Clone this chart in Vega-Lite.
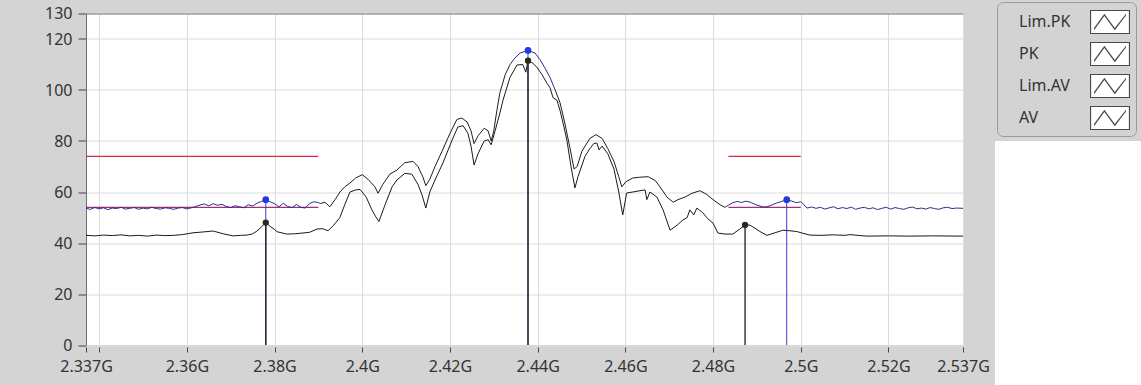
{
  "$schema": "https://vega.github.io/schema/vega-lite/v6.json",
  "autosize": {"type": "none"},
  "width": 877,
  "height": 331.5,
  "padding": {"left": 86, "top": 13.5, "right": 178, "bottom": 40},
  "background": "#d4d4d4",
  "view": {"fill": "#ffffff", "stroke": null},
  "config": {
    "view": {"fill": "#ffffff", "stroke": null},
    "font": "Noto Sans",
    "axis": {"labelFont": "Noto Sans", "labelFontSize": 16, "labelColor": "#333333", "gridColor": "#dcdcdc", "gridWidth": 1, "tickColor": "#444444", "domainColor": "#6e6e6e"}
  },
  "resolve": {"scale": {"shape": "independent"}, "legend": {"shape": "independent"}},
  "datasets": {
    "traces": [
      {"f":2.337,"v":53.6,"s":"PK","g":"a"},{"f":2.338,"v":53.2,"s":"PK","g":"a"},{"f":2.339,"v":53.9,"s":"PK","g":"a"},{"f":2.340,"v":53.4,"s":"PK","g":"a"},{"f":2.341,"v":53.8,"s":"PK","g":"a"},{"f":2.342,"v":53.1,"s":"PK","g":"a"},{"f":2.343,"v":53.7,"s":"PK","g":"a"},{"f":2.344,"v":53.5,"s":"PK","g":"a"},{"f":2.345,"v":54.0,"s":"PK","g":"a"},{"f":2.346,"v":53.3,"s":"PK","g":"a"},{"f":2.347,"v":53.6,"s":"PK","g":"a"},{"f":2.348,"v":53.9,"s":"PK","g":"a"},{"f":2.349,"v":53.2,"s":"PK","g":"a"},{"f":2.350,"v":53.7,"s":"PK","g":"a"},{"f":2.351,"v":53.4,"s":"PK","g":"a"},{"f":2.352,"v":54.0,"s":"PK","g":"a"},{"f":2.353,"v":53.5,"s":"PK","g":"a"},{"f":2.354,"v":53.3,"s":"PK","g":"a"},{"f":2.355,"v":53.8,"s":"PK","g":"a"},{"f":2.356,"v":53.6,"s":"PK","g":"a"},{"f":2.357,"v":53.2,"s":"PK","g":"a"},{"f":2.358,"v":53.7,"s":"PK","g":"a"},{"f":2.359,"v":53.9,"s":"PK","g":"a"},{"f":2.360,"v":53.4,"s":"PK","g":"a"},{"f":2.361,"v":53.8,"s":"PK","g":"a"},{"f":2.362,"v":54.3,"s":"PK","g":"a"},{"f":2.363,"v":54.9,"s":"PK","g":"a"},{"f":2.364,"v":55.3,"s":"PK","g":"a"},{"f":2.365,"v":54.6,"s":"PK","g":"a"},{"f":2.366,"v":55.4,"s":"PK","g":"a"},{"f":2.367,"v":54.8,"s":"PK","g":"a"},{"f":2.368,"v":55.2,"s":"PK","g":"a"},{"f":2.369,"v":54.3,"s":"PK","g":"a"},{"f":2.370,"v":53.9,"s":"PK","g":"a"},{"f":2.371,"v":54.6,"s":"PK","g":"a"},{"f":2.372,"v":54.2,"s":"PK","g":"a"},{"f":2.373,"v":53.8,"s":"PK","g":"a"},{"f":2.374,"v":55.0,"s":"PK","g":"a"},{"f":2.375,"v":54.5,"s":"PK","g":"a"},{"f":2.376,"v":55.6,"s":"PK","g":"a"},{"f":2.377,"v":56.3,"s":"PK","g":"a"},{"f":2.378,"v":57.0,"s":"PK","g":"a"},{"f":2.379,"v":56.2,"s":"PK","g":"a"},{"f":2.380,"v":55.4,"s":"PK","g":"a"},{"f":2.381,"v":54.2,"s":"PK","g":"a"},{"f":2.382,"v":55.6,"s":"PK","g":"a"},{"f":2.383,"v":54.3,"s":"PK","g":"a"},{"f":2.384,"v":53.9,"s":"PK","g":"a"},{"f":2.385,"v":55.1,"s":"PK","g":"a"},{"f":2.386,"v":54.0,"s":"PK","g":"a"},{"f":2.387,"v":53.7,"s":"PK","g":"a"},{"f":2.388,"v":55.5,"s":"PK","g":"a"},{"f":2.389,"v":56.2,"s":"PK","g":"a"},{"f":2.390,"v":55.8,"s":"PK","g":"a"},{"f":2.3905,"v":55.5,"s":"PK","g":"a"},
      {"f":2.3905,"v":55.5,"s":"PK2","g":"b"},{"f":2.3915,"v":56,"s":"PK2","g":"b"},{"f":2.3926,"v":54.2,"s":"PK2","g":"b"},{"f":2.3938,"v":57,"s":"PK2","g":"b"},{"f":2.3949,"v":60,"s":"PK2","g":"b"},{"f":2.396,"v":62,"s":"PK2","g":"b"},{"f":2.3972,"v":63.5,"s":"PK2","g":"b"},{"f":2.3985,"v":65.5,"s":"PK2","g":"b"},{"f":2.4,"v":66.8,"s":"PK2","g":"b"},{"f":2.4013,"v":65,"s":"PK2","g":"b"},{"f":2.4029,"v":62,"s":"PK2","g":"b"},{"f":2.4036,"v":59.5,"s":"PK2","g":"b"},{"f":2.4047,"v":63,"s":"PK2","g":"b"},{"f":2.4063,"v":67,"s":"PK2","g":"b"},{"f":2.4079,"v":68.6,"s":"PK2","g":"b"},{"f":2.4097,"v":71.5,"s":"PK2","g":"b"},{"f":2.4116,"v":72,"s":"PK2","g":"b"},{"f":2.4127,"v":70,"s":"PK2","g":"b"},{"f":2.4138,"v":66,"s":"PK2","g":"b"},{"f":2.4145,"v":62.5,"s":"PK2","g":"b"},{"f":2.4154,"v":65,"s":"PK2","g":"b"},{"f":2.4166,"v":70,"s":"PK2","g":"b"},{"f":2.4182,"v":76,"s":"PK2","g":"b"},{"f":2.42,"v":83,"s":"PK2","g":"b"},{"f":2.4216,"v":88.5,"s":"PK2","g":"b"},{"f":2.4227,"v":89,"s":"PK2","g":"b"},{"f":2.4239,"v":87.5,"s":"PK2","g":"b"},{"f":2.4248,"v":84,"s":"PK2","g":"b"},{"f":2.4255,"v":79,"s":"PK2","g":"b"},{"f":2.4264,"v":82,"s":"PK2","g":"b"},{"f":2.4278,"v":85,"s":"PK2","g":"b"},{"f":2.4287,"v":84,"s":"PK2","g":"b"},{"f":2.4294,"v":80,"s":"PK2","g":"b"},{"f":2.43,"v":84,"s":"PK2","g":"b"},{"f":2.4307,"v":92,"s":"PK2","g":"b"},{"f":2.4314,"v":99,"s":"PK2","g":"b"},{"f":2.4326,"v":106,"s":"PK2","g":"b"},{"f":2.4337,"v":110,"s":"PK2","g":"b"},
      {"f":2.4337,"v":110,"s":"PK","g":"c"},{"f":2.4348,"v":112.5,"s":"PK","g":"c"},{"f":2.436,"v":114.5,"s":"PK","g":"c"},{"f":2.4378,"v":115.5,"s":"PK","g":"c"},{"f":2.4394,"v":114.5,"s":"PK","g":"c"},{"f":2.4405,"v":112,"s":"PK","g":"c"},{"f":2.4417,"v":108.5,"s":"PK","g":"c"},{"f":2.4428,"v":105,"s":"PK","g":"c"},{"f":2.444,"v":100,"s":"PK","g":"c"},
      {"f":2.444,"v":100,"s":"PK2","g":"d"},{"f":2.4451,"v":95,"s":"PK2","g":"d"},{"f":2.4462,"v":87,"s":"PK2","g":"d"},{"f":2.4474,"v":77,"s":"PK2","g":"d"},{"f":2.4483,"v":69,"s":"PK2","g":"d"},{"f":2.449,"v":70,"s":"PK2","g":"d"},{"f":2.4501,"v":76,"s":"PK2","g":"d"},{"f":2.4519,"v":81,"s":"PK2","g":"d"},{"f":2.4533,"v":82.5,"s":"PK2","g":"d"},{"f":2.4547,"v":81,"s":"PK2","g":"d"},{"f":2.456,"v":77,"s":"PK2","g":"d"},{"f":2.4574,"v":72,"s":"PK2","g":"d"},{"f":2.4585,"v":66,"s":"PK2","g":"d"},{"f":2.4592,"v":62,"s":"PK2","g":"d"},{"f":2.4601,"v":64,"s":"PK2","g":"d"},{"f":2.4617,"v":65.5,"s":"PK2","g":"d"},{"f":2.4633,"v":65.8,"s":"PK2","g":"d"},{"f":2.4652,"v":66,"s":"PK2","g":"d"},{"f":2.4668,"v":64.5,"s":"PK2","g":"d"},{"f":2.4679,"v":62,"s":"PK2","g":"d"},{"f":2.4695,"v":58,"s":"PK2","g":"d"},{"f":2.4709,"v":56,"s":"PK2","g":"d"},{"f":2.472,"v":57,"s":"PK2","g":"d"},{"f":2.4736,"v":58,"s":"PK2","g":"d"},{"f":2.4752,"v":59.5,"s":"PK2","g":"d"},{"f":2.477,"v":60.5,"s":"PK2","g":"d"},{"f":2.4786,"v":59,"s":"PK2","g":"d"},{"f":2.48,"v":57,"s":"PK2","g":"d"},{"f":2.4816,"v":55,"s":"PK2","g":"d"},{"f":2.4827,"v":54,"s":"PK2","g":"d"},
      {"f":2.4827,"v":54,"s":"PK","g":"e"},{"f":2.4835,"v":54.8,"s":"PK","g":"e"},{"f":2.4845,"v":55.8,"s":"PK","g":"e"},{"f":2.4855,"v":56.3,"s":"PK","g":"e"},{"f":2.4865,"v":55.9,"s":"PK","g":"e"},{"f":2.4875,"v":56.4,"s":"PK","g":"e"},{"f":2.4885,"v":56.0,"s":"PK","g":"e"},{"f":2.4895,"v":55.2,"s":"PK","g":"e"},{"f":2.4905,"v":54.6,"s":"PK","g":"e"},{"f":2.4915,"v":54.1,"s":"PK","g":"e"},{"f":2.4925,"v":54.3,"s":"PK","g":"e"},{"f":2.4935,"v":55.0,"s":"PK","g":"e"},{"f":2.4945,"v":55.7,"s":"PK","g":"e"},{"f":2.4955,"v":56.2,"s":"PK","g":"e"},{"f":2.4968,"v":57.0,"s":"PK","g":"e"},{"f":2.498,"v":56.4,"s":"PK","g":"e"},{"f":2.499,"v":55.8,"s":"PK","g":"e"},{"f":2.5,"v":56.2,"s":"PK","g":"e"},{"f":2.5007,"v":55.1,"s":"PK","g":"e"},{"f":2.5014,"v":53.7,"s":"PK","g":"e"},{"f":2.5025,"v":54.1,"s":"PK","g":"e"},{"f":2.5035,"v":53.6,"s":"PK","g":"e"},{"f":2.5045,"v":54.0,"s":"PK","g":"e"},{"f":2.5055,"v":53.3,"s":"PK","g":"e"},{"f":2.5065,"v":53.8,"s":"PK","g":"e"},{"f":2.5075,"v":54.2,"s":"PK","g":"e"},{"f":2.5085,"v":53.4,"s":"PK","g":"e"},{"f":2.5095,"v":53.9,"s":"PK","g":"e"},{"f":2.5105,"v":53.5,"s":"PK","g":"e"},{"f":2.5115,"v":54.1,"s":"PK","g":"e"},{"f":2.5125,"v":53.2,"s":"PK","g":"e"},{"f":2.5135,"v":53.7,"s":"PK","g":"e"},{"f":2.5145,"v":54.0,"s":"PK","g":"e"},{"f":2.5155,"v":53.4,"s":"PK","g":"e"},{"f":2.5165,"v":53.8,"s":"PK","g":"e"},{"f":2.5175,"v":53.1,"s":"PK","g":"e"},{"f":2.5185,"v":53.6,"s":"PK","g":"e"},{"f":2.5195,"v":54.0,"s":"PK","g":"e"},{"f":2.5205,"v":53.3,"s":"PK","g":"e"},{"f":2.5215,"v":53.9,"s":"PK","g":"e"},{"f":2.5225,"v":53.5,"s":"PK","g":"e"},{"f":2.5235,"v":53.2,"s":"PK","g":"e"},{"f":2.5245,"v":53.8,"s":"PK","g":"e"},{"f":2.5255,"v":54.1,"s":"PK","g":"e"},{"f":2.5265,"v":53.4,"s":"PK","g":"e"},{"f":2.5275,"v":53.7,"s":"PK","g":"e"},{"f":2.5285,"v":53.3,"s":"PK","g":"e"},{"f":2.5295,"v":53.9,"s":"PK","g":"e"},{"f":2.5305,"v":53.5,"s":"PK","g":"e"},{"f":2.5315,"v":53.2,"s":"PK","g":"e"},{"f":2.5325,"v":53.8,"s":"PK","g":"e"},{"f":2.5335,"v":54.0,"s":"PK","g":"e"},{"f":2.5345,"v":53.5,"s":"PK","g":"e"},{"f":2.5355,"v":53.7,"s":"PK","g":"e"},{"f":2.537,"v":53.6,"s":"PK","g":"e"},
      {"f":2.337,"v":43.0,"s":"AV","g":"av"},{"f":2.339,"v":42.8,"s":"AV","g":"av"},{"f":2.341,"v":43.1,"s":"AV","g":"av"},{"f":2.343,"v":42.9,"s":"AV","g":"av"},{"f":2.345,"v":43.2,"s":"AV","g":"av"},{"f":2.347,"v":42.8,"s":"AV","g":"av"},{"f":2.349,"v":43.0,"s":"AV","g":"av"},{"f":2.351,"v":42.7,"s":"AV","g":"av"},{"f":2.353,"v":43.1,"s":"AV","g":"av"},{"f":2.355,"v":42.9,"s":"AV","g":"av"},{"f":2.357,"v":43.0,"s":"AV","g":"av"},{"f":2.359,"v":43.3,"s":"AV","g":"av"},{"f":2.3614,"v":44.0,"s":"AV","g":"av"},{"f":2.3635,"v":44.3,"s":"AV","g":"av"},{"f":2.366,"v":44.7,"s":"AV","g":"av"},{"f":2.3683,"v":43.6,"s":"AV","g":"av"},{"f":2.3705,"v":42.8,"s":"AV","g":"av"},{"f":2.3722,"v":43.0,"s":"AV","g":"av"},{"f":2.3737,"v":43.1,"s":"AV","g":"av"},{"f":2.375,"v":43.6,"s":"AV","g":"av"},{"f":2.376,"v":44.7,"s":"AV","g":"av"},{"f":2.377,"v":46.3,"s":"AV","g":"av"},{"f":2.378,"v":48.0,"s":"AV","g":"av"},{"f":2.379,"v":46.5,"s":"AV","g":"av"},{"f":2.38,"v":45.3,"s":"AV","g":"av"},{"f":2.3806,"v":44.4,"s":"AV","g":"av"},{"f":2.3828,"v":43.5,"s":"AV","g":"av"},{"f":2.3845,"v":43.6,"s":"AV","g":"av"},{"f":2.3858,"v":43.8,"s":"AV","g":"av"},{"f":2.388,"v":44.2,"s":"AV","g":"av"},{"f":2.3897,"v":45.5,"s":"AV","g":"av"},{"f":2.391,"v":45.6,"s":"AV","g":"av"},{"f":2.3922,"v":44.8,"s":"AV","g":"av"},{"f":2.3935,"v":47,"s":"AV","g":"av"},{"f":2.3949,"v":50,"s":"AV","g":"av"},{"f":2.396,"v":55,"s":"AV","g":"av"},{"f":2.3972,"v":60,"s":"AV","g":"av"},{"f":2.3985,"v":60.8,"s":"AV","g":"av"},{"f":2.3995,"v":61,"s":"AV","g":"av"},{"f":2.4009,"v":58,"s":"AV","g":"av"},{"f":2.4022,"v":53,"s":"AV","g":"av"},{"f":2.403,"v":50.5,"s":"AV","g":"av"},{"f":2.4038,"v":48.4,"s":"AV","g":"av"},{"f":2.4052,"v":55,"s":"AV","g":"av"},{"f":2.4068,"v":62,"s":"AV","g":"av"},{"f":2.4079,"v":64.7,"s":"AV","g":"av"},{"f":2.4097,"v":67.3,"s":"AV","g":"av"},{"f":2.4113,"v":67,"s":"AV","g":"av"},{"f":2.4127,"v":63,"s":"AV","g":"av"},{"f":2.4136,"v":59,"s":"AV","g":"av"},{"f":2.4145,"v":53.7,"s":"AV","g":"av"},{"f":2.4154,"v":60,"s":"AV","g":"av"},{"f":2.4166,"v":64.7,"s":"AV","g":"av"},{"f":2.4184,"v":71.4,"s":"AV","g":"av"},{"f":2.4205,"v":80.4,"s":"AV","g":"av"},{"f":2.4218,"v":85.5,"s":"AV","g":"av"},{"f":2.423,"v":86,"s":"AV","g":"av"},{"f":2.4241,"v":83,"s":"AV","g":"av"},{"f":2.4248,"v":78,"s":"AV","g":"av"},{"f":2.4255,"v":70.6,"s":"AV","g":"av"},{"f":2.4264,"v":75,"s":"AV","g":"av"},{"f":2.4278,"v":80,"s":"AV","g":"av"},{"f":2.4287,"v":80.5,"s":"AV","g":"av"},{"f":2.4294,"v":78.5,"s":"AV","g":"av"},{"f":2.4303,"v":84,"s":"AV","g":"av"},{"f":2.4314,"v":91,"s":"AV","g":"av"},{"f":2.4321,"v":96,"s":"AV","g":"av"},{"f":2.4337,"v":105,"s":"AV","g":"av"},{"f":2.4353,"v":109.8,"s":"AV","g":"av"},{"f":2.4366,"v":110,"s":"AV","g":"av"},{"f":2.4373,"v":107,"s":"AV","g":"av"},{"f":2.4378,"v":111.5,"s":"AV","g":"av"},{"f":2.4389,"v":110.5,"s":"AV","g":"av"},{"f":2.4398,"v":109,"s":"AV","g":"av"},{"f":2.441,"v":106,"s":"AV","g":"av"},{"f":2.4421,"v":102.7,"s":"AV","g":"av"},{"f":2.4428,"v":101,"s":"AV","g":"av"},{"f":2.4435,"v":97,"s":"AV","g":"av"},{"f":2.4444,"v":96,"s":"AV","g":"av"},{"f":2.4451,"v":92,"s":"AV","g":"av"},{"f":2.4458,"v":87,"s":"AV","g":"av"},{"f":2.4467,"v":80,"s":"AV","g":"av"},{"f":2.4476,"v":70,"s":"AV","g":"av"},{"f":2.4485,"v":61.6,"s":"AV","g":"av"},{"f":2.4492,"v":66,"s":"AV","g":"av"},{"f":2.4508,"v":74,"s":"AV","g":"av"},{"f":2.4519,"v":77,"s":"AV","g":"av"},{"f":2.4528,"v":79,"s":"AV","g":"av"},{"f":2.4535,"v":79.2,"s":"AV","g":"av"},{"f":2.454,"v":76.5,"s":"AV","g":"av"},{"f":2.4547,"v":78,"s":"AV","g":"av"},{"f":2.456,"v":75,"s":"AV","g":"av"},{"f":2.4574,"v":69,"s":"AV","g":"av"},{"f":2.4585,"v":60,"s":"AV","g":"av"},{"f":2.4594,"v":51,"s":"AV","g":"av"},{"f":2.4603,"v":59.6,"s":"AV","g":"av"},{"f":2.4617,"v":60,"s":"AV","g":"av"},{"f":2.4633,"v":60.5,"s":"AV","g":"av"},{"f":2.4645,"v":60.8,"s":"AV","g":"av"},{"f":2.4649,"v":57,"s":"AV","g":"av"},{"f":2.4656,"v":60,"s":"AV","g":"av"},{"f":2.4672,"v":58,"s":"AV","g":"av"},{"f":2.4686,"v":53,"s":"AV","g":"av"},{"f":2.4702,"v":45,"s":"AV","g":"av"},{"f":2.4718,"v":47,"s":"AV","g":"av"},{"f":2.4731,"v":49,"s":"AV","g":"av"},{"f":2.4741,"v":50,"s":"AV","g":"av"},{"f":2.4747,"v":53,"s":"AV","g":"av"},{"f":2.4756,"v":51,"s":"AV","g":"av"},{"f":2.4763,"v":53.7,"s":"AV","g":"av"},{"f":2.4777,"v":51.8,"s":"AV","g":"av"},{"f":2.4788,"v":49.5,"s":"AV","g":"av"},{"f":2.48,"v":47.8,"s":"AV","g":"av"},{"f":2.4811,"v":43.9,"s":"AV","g":"av"},{"f":2.4827,"v":43.5,"s":"AV","g":"av"},{"f":2.4845,"v":43.5,"s":"AV","g":"av"},{"f":2.4861,"v":45.5,"s":"AV","g":"av"},{"f":2.4873,"v":47.1,"s":"AV","g":"av"},{"f":2.4884,"v":47,"s":"AV","g":"av"},{"f":2.4891,"v":46.3,"s":"AV","g":"av"},{"f":2.4907,"v":44.5,"s":"AV","g":"av"},{"f":2.4923,"v":43,"s":"AV","g":"av"},{"f":2.4941,"v":44,"s":"AV","g":"av"},{"f":2.4959,"v":45,"s":"AV","g":"av"},{"f":2.4975,"v":44.8,"s":"AV","g":"av"},{"f":2.4991,"v":44.5,"s":"AV","g":"av"},{"f":2.5005,"v":43.8,"s":"AV","g":"av"},{"f":2.5021,"v":43.1,"s":"AV","g":"av"},{"f":2.5044,"v":43,"s":"AV","g":"av"},{"f":2.5074,"v":43.2,"s":"AV","g":"av"},{"f":2.5101,"v":43,"s":"AV","g":"av"},{"f":2.5112,"v":43.3,"s":"AV","g":"av"},{"f":2.5135,"v":42.9,"s":"AV","g":"av"},{"f":2.5151,"v":42.7,"s":"AV","g":"av"},{"f":2.52,"v":42.8,"s":"AV","g":"av"},{"f":2.525,"v":42.7,"s":"AV","g":"av"},{"f":2.53,"v":42.8,"s":"AV","g":"av"},{"f":2.537,"v":42.7,"s":"AV","g":"av"}
    ],
    "limits": [
      {"f":2.337,"v":74,"s":"Lim.PK","g":"l1"},{"f":2.39,"v":74,"s":"Lim.PK","g":"l1"},
      {"f":2.4835,"v":74,"s":"Lim.PK","g":"l2"},{"f":2.5,"v":74,"s":"Lim.PK","g":"l2"},
      {"f":2.337,"v":54,"s":"Lim.AV","g":"l3"},{"f":2.39,"v":54,"s":"Lim.AV","g":"l3"},
      {"f":2.4835,"v":54,"s":"Lim.AV","g":"l4"},{"f":2.5,"v":54,"s":"Lim.AV","g":"l4"}
    ],
    "markers": [
      {"f":2.378,"v":57.0,"s":"PK"},{"f":2.4378,"v":115.5,"s":"PK"},{"f":2.4968,"v":57.0,"s":"PK"},
      {"f":2.378,"v":48.0,"s":"AV"},{"f":2.4378,"v":111.5,"s":"AV"},{"f":2.4873,"v":47.1,"s":"AV"}
    ],
    "legend": [
      {"s":"Lim.PK","s2":"Lim.PK","k":"page"},{"s":"PK","s2":"PK","k":"page"},{"s":"Lim.AV","s2":"Lim.AV","k":"page"},{"s":"AV","s2":"AV","k":"page"}
    ]
  },
  "layer": [
    {
      "data": {"name": "limits"},
      "mark": {"type": "line", "strokeWidth": 1.2},
      "encoding": {
        "x": {"field": "f", "type": "quantitative", "scale": {"domain": [2.337, 2.537], "nice": false, "zero": false},
          "axis": {"values": [2.337, 2.34, 2.36, 2.38, 2.4, 2.42, 2.44, 2.46, 2.48, 2.5, 2.52, 2.537], "labelExpr": "datum.value == 2.34 ? '' : format(datum.value, '.4~f') + 'G'", "domain": false, "grid": true, "tickSize": 5, "offset": 2, "labelPadding": 6, "labelFlush": false, "labelOverlap": false, "title": null}},
        "y": {"field": "v", "type": "quantitative", "scale": {"domain": [0, 130], "nice": false},
          "axis": {"values": [0, 20, 40, 60, 80, 100, 120, 130], "grid": true, "gridColor": {"condition": {"test": "datum.value == 130", "value": "#6e6e6e"}, "value": "#dcdcdc"}, "tickSize": 8, "labelPadding": 6, "domain": true, "labelFlush": false, "labelOverlap": false, "title": null}},
        "color": {"field": "s", "type": "nominal",
          "scale": {"domain": ["Lim.PK", "PK", "Lim.AV", "AV", "PK2"], "range": ["#d8284a", "#2d2d8f", "#a0307a", "#1a1a1a", "#1e1e1e"]},
          "legend": null},
        "detail": {"field": "g"}
      }
    },
    {
      "data": {"name": "traces"},
      "mark": {"type": "line", "strokeWidth": 1},
      "encoding": {
        "x": {"field": "f", "type": "quantitative"},
        "y": {"field": "v", "type": "quantitative"},
        "color": {"field": "s", "type": "nominal", "legend": null},
        "detail": {"field": "g"}
      }
    },
    {
      "data": {"name": "markers"},
      "transform": [{"filter": "datum.s == 'PK'"}],
      "mark": {"type": "rule", "color": "#3a3acc", "strokeWidth": 1},
      "encoding": {
        "x": {"field": "f", "type": "quantitative"},
        "y": {"field": "v", "type": "quantitative"},
        "y2": {"datum": 0}
      }
    },
    {
      "data": {"name": "markers"},
      "transform": [{"filter": "datum.s == 'AV'"}],
      "mark": {"type": "rule", "color": "#1a1a1a", "strokeWidth": 1.3},
      "encoding": {
        "x": {"field": "f", "type": "quantitative"},
        "y": {"field": "v", "type": "quantitative"},
        "y2": {"datum": 0}
      }
    },
    {
      "data": {"name": "markers"},
      "transform": [{"filter": "datum.s == 'PK'"}],
      "mark": {"type": "point", "filled": true, "color": "#2238e0", "size": 45, "opacity": 1},
      "encoding": {
        "x": {"field": "f", "type": "quantitative"},
        "y": {"field": "v", "type": "quantitative"}
      }
    },
    {
      "data": {"name": "markers"},
      "transform": [{"filter": "datum.s == 'AV'"}],
      "mark": {"type": "point", "filled": true, "color": "#2a2a1c", "size": 40, "opacity": 1},
      "encoding": {
        "x": {"field": "f", "type": "quantitative"},
        "y": {"field": "v", "type": "quantitative"}
      }
    },
    {
      "data": {"name": "legend"},
      "mark": {"type": "point", "filled": true, "color": "#ffffff", "size": 0},
      "encoding": {
        "x": {"datum": 2.4},
        "y": {"datum": 60},
        "shape": {"field": "s", "type": "nominal",
          "scale": {"domain": ["Lim.PK", "PK", "Lim.AV", "AV"], "range": [
            "M-1.25,-0.75H1.25V0.75H-1.25Z",
            "M-1.25,-0.75H1.25V0.75H-1.25Z",
            "M-1.25,-0.75H1.25V0.75H-1.25Z",
            "M-1.25,-0.75H1.25V0.75H-1.25Z"]},
          "legend": {"orient": "none", "legendX": 911, "legendY": -11.5, "title": null,
            "symbolSize": 1024, "symbolOpacity": 1,
            "symbolOffset": 93, "labelOffset": -108,
            "labelFont": "Noto Sans", "labelFontSize": 16, "labelColor": "#333333",
            "fillColor": "#d3d3d3", "strokeColor": "#9a9a9a", "cornerRadius": 6, "padding": 3, "rowPadding": 0}},
        "opacity": {"field": "k", "type": "nominal", "scale": {"range": [0]},
          "legend": {"orient": "none", "legendX": 909, "legendY": 127.5, "title": null, "labelExpr": "''",
            "fillColor": "#ffffff", "strokeColor": null, "padding": 130, "symbolOpacity": 0, "symbolFillColor": "#ffffff", "symbolStrokeColor": "#ffffff"}}
      }
    },
    {
      "data": {"name": "legend"},
      "mark": {"type": "point", "filled": true, "color": "#4a4a4a", "size": 0},
      "encoding": {
        "x": {"datum": 2.4},
        "y": {"datum": 60},
        "shape": {"field": "s2", "type": "nominal",
          "scale": {"domain": ["Lim.PK", "PK", "Lim.AV", "AV"], "range": [
            "M-1.25,-0.75H1.25V0.75H-1.25Z M-1.18,-0.68V0.68H1.18V-0.68Z M-1,0.38L-0.35,-0.52L0.3,0.38L1,-0.52L1,-0.4L0.3,0.52L-0.35,-0.38L-1,0.52Z",
            "M-1.25,-0.75H1.25V0.75H-1.25Z M-1.18,-0.68V0.68H1.18V-0.68Z M-1,0.38L-0.35,-0.52L0.3,0.38L1,-0.52L1,-0.4L0.3,0.52L-0.35,-0.38L-1,0.52Z",
            "M-1.25,-0.75H1.25V0.75H-1.25Z M-1.18,-0.68V0.68H1.18V-0.68Z M-1,0.38L-0.35,-0.52L0.3,0.38L1,-0.52L1,-0.4L0.3,0.52L-0.35,-0.38L-1,0.52Z",
            "M-1.25,-0.75H1.25V0.75H-1.25Z M-1.18,-0.68V0.68H1.18V-0.68Z M-1,0.38L-0.35,-0.52L0.3,0.38L1,-0.52L1,-0.4L0.3,0.52L-0.35,-0.38L-1,0.52Z"]},
          "legend": {"orient": "none", "legendX": 911, "legendY": -11.5, "title": null, "zindex": 2,
            "symbolSize": 1024, "symbolOpacity": 1, "labelExpr": "''",
            "symbolOffset": 93, "labelOffset": -108,
            "labelFont": "Noto Sans", "labelFontSize": 16,
            "padding": 3, "rowPadding": 0}}
      }
    }
  ]
}
